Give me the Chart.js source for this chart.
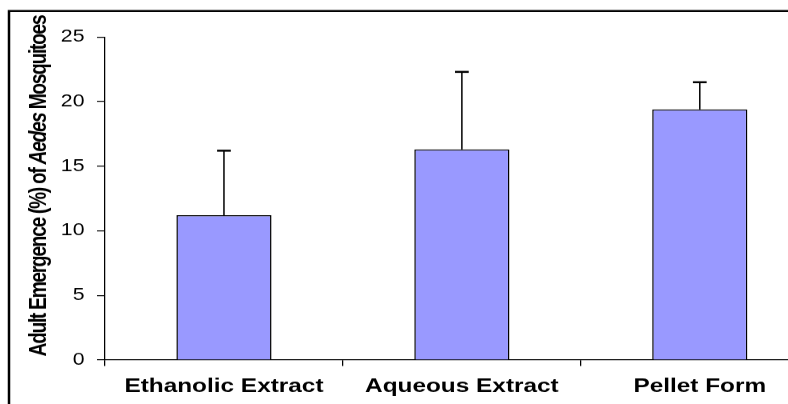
<!DOCTYPE html>
<html>
<head>
<meta charset="utf-8">
<script src="https://cdn.jsdelivr.net/npm/chart.js@4"></script>
<style>
  html, body { margin: 0; padding: 0; background: #fff; overflow: hidden; }
  #wrap { width: 788px; height: 404px; overflow: hidden; position: relative; }
  /* the original picture is stretched sideways, so the chart is too */
  #chart { position: absolute; left: 0; top: 0; transform: scaleX(1.25); transform-origin: 0 0; }
</style>
</head>
<body>
<div id="wrap"><canvas id="chart" width="660" height="404"></canvas></div>
<script>
const categories = ['Ethanolic Extract', 'Aqueous Extract', 'Pellet Form'];
const emergence = [11.2, 16.3, 19.4];
const emergenceErr = [5.0, 6.0, 2.1];
const yMin = 0;
const yMax = 25;
const yStep = 5;

const FONT = '"Liberation Sans", Arial, sans-serif';

// frame lines round the figure (only top and left survive the crop)
const framePlugin = {
    id: 'frame',
    beforeDraw(chart) {
        const ctx = chart.ctx;
        ctx.save();
        ctx.strokeStyle = '#000';
        ctx.lineWidth = 2;
        ctx.beginPath();
        ctx.moveTo(7.2, chart.height);
        ctx.lineTo(7.2, 11);
        ctx.lineTo(chart.width, 11);
        ctx.stroke();
        ctx.restore();
    }
};

// upper error bars with caps
const errorBarPlugin = {
    id: 'errorBars',
    afterDatasetsDraw(chart) {
        const ctx = chart.ctx;
        const yScale = chart.scales.y;
        const meta = chart.getDatasetMeta(0);
        ctx.save();
        ctx.strokeStyle = '#000';
        meta.data.forEach((bar, i) => {
            const top = yScale.getPixelForValue(emergence[i] + emergenceErr[i]);
            ctx.lineWidth = 1.2;
            ctx.beginPath();
            ctx.moveTo(bar.x, bar.y);
            ctx.lineTo(bar.x, top);
            ctx.stroke();
            ctx.lineWidth = 2;
            ctx.beginPath();
            ctx.moveTo(bar.x - 5.5, top);
            ctx.lineTo(bar.x + 5.5, top);
            ctx.stroke();
        });
        ctx.restore();
    }
};

// y title with the italic genus name
const yTitlePlugin = {
    id: 'yTitle',
    afterDraw(chart) {
        const ctx = chart.ctx;
        const parts = [
            { text: 'Adult Emergence (%) of ', font: 'bold 19px ' + FONT },
            { text: 'Aedes', font: 'italic bold 19px ' + FONT },
            { text: ' Mosquitoes', font: 'bold 19px ' + FONT }
        ];
        ctx.save();
        ctx.letterSpacing = '-1.2px';
        let total = 0;
        parts.forEach(p => { ctx.font = p.font; p.w = ctx.measureText(p.text).width; total += p.w; });
        ctx.translate(36.5, 186);
        ctx.rotate(-Math.PI / 2);
        ctx.fillStyle = '#000';
        ctx.textBaseline = 'alphabetic';
        ctx.textAlign = 'left';
        let x = -total / 2;
        parts.forEach(p => { ctx.font = p.font; ctx.fillText(p.text, x, 0); x += p.w; });
        ctx.restore();
    }
};

new Chart(document.getElementById('chart'), {
    type: 'bar',
    data: {
        labels: categories,
        datasets: [{
            data: emergence,
            backgroundColor: '#9999FF',
            borderColor: '#000',
            borderWidth: 1.2,
            borderSkipped: 'bottom',
            barPercentage: 0.4,
            categoryPercentage: 1.0
        }]
    },
    options: {
        responsive: false,
        animation: false,
        devicePixelRatio: 1.25,
        layout: { padding: { top: 37, left: 0, right: 5, bottom: 0 } },
        plugins: { legend: { display: false }, tooltip: { enabled: false } },
        scales: {
            x: {
                afterFit(scale) { scale.height = 44; },
                grid: { display: true, drawOnChartArea: false, drawTicks: true, tickLength: 6, tickColor: '#000', offset: true },
                border: { display: true, color: '#000', width: 1 },
                ticks: { color: '#000', padding: 9, font: { family: FONT, size: 19.5, weight: 'bold' }, maxRotation: 0 }
            },
            y: {
                min: yMin,
                max: yMax,
                afterFit(scale) { scale.width = 84; },
                grid: { display: true, drawOnChartArea: false, drawTicks: true, tickLength: 6.4, tickColor: '#000' },
                border: { display: true, color: '#000', width: 1 },
                ticks: { stepSize: yStep, color: '#000', padding: 10, font: { family: FONT, size: 17 } }
            }
        }
    },
    plugins: [framePlugin, errorBarPlugin, yTitlePlugin]
});
</script>
</body>
</html>
